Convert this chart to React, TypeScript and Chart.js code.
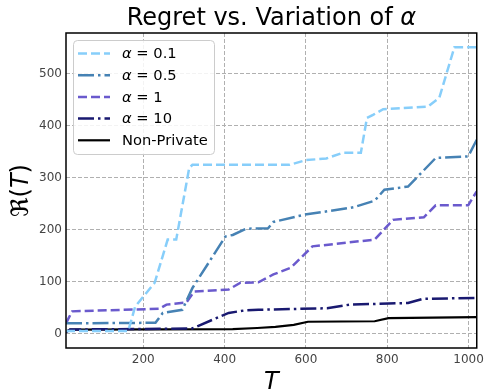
import React, { useEffect, useRef } from "react";
import { Chart, registerables } from "chart.js";

Chart.register(...registerables);

const xTicks = [200, 400, 600, 800, 1000];
const yTicks = [0, 100, 200, 300, 400, 500];

const tA01 = [10, 163, 180, 228, 260, 281, 313, 321, 560, 600, 650, 690, 735, 750, 765, 790, 900, 928, 965, 1020];
const rA01 = [5, 5, 52, 98, 181, 181, 319, 325, 325, 334, 337, 348, 348, 415, 421, 432, 437, 454, 551, 551];

const tA05 = [10, 230, 248, 296, 321, 402, 420, 453, 507, 520, 596, 708, 720, 769, 793, 851, 919, 999, 1020];
const rA05 = [20, 21, 40, 46, 88, 187, 190, 202, 203, 215, 229, 242, 244, 256, 277, 283, 338, 341, 373];

const tA1 = [10, 25, 240, 257, 306, 325, 410, 439, 483, 520, 563, 616, 769, 814, 890, 919, 999, 1020];
const rA1 = [20, 43, 48, 56, 60, 81, 85, 98, 99, 114, 127, 168, 181, 219, 224, 247, 247, 274];

const tA10 = [10, 20, 320, 410, 451, 483, 652, 708, 803, 851, 887, 1020];
const rA10 = [3, 8, 10, 40, 45, 46, 49, 56, 58, 59, 67, 69];

const tNP = [10, 20, 420, 480, 525, 570, 605, 769, 803, 1020];
const rNP = [4, 8, 9, 11, 13, 17, 23, 24, 30, 32];

const seriesLabels = ["0.1", "0.5", "1", "10", "Non-Private"];

const pts = (t: number[], r: number[]) => t.map((x, i) => ({ x, y: r[i] }));

const FONT = '"DejaVu Sans", sans-serif';

function drawRuns(ctx: CanvasRenderingContext2D, runs: [string, string][], x: number, y: number, align: "left" | "center") {
  let total = 0;
  const widths = runs.map(([t, f]) => {
    ctx.font = f;
    const w = ctx.measureText(t).width;
    total += w;
    return w;
  });
  let cx = align === "center" ? x - total / 2 : x;
  runs.forEach(([t, f], i) => {
    ctx.font = f;
    ctx.fillText(t, cx, y);
    cx += widths[i];
  });
}

const decor = {
  id: "decor",
  afterDraw(chart: any) {
    const ctx: CanvasRenderingContext2D = chart.ctx;
    const a = chart.chartArea;
    ctx.save();
    ctx.strokeStyle = "#000";
    ctx.lineWidth = 1.5;
    ctx.setLineDash([]);
    ctx.strokeRect(a.left, a.top, a.right - a.left, a.bottom - a.top);

    ctx.fillStyle = "#000";
    ctx.textBaseline = "alphabetic";
    drawRuns(
      ctx,
      [
        ["Regret vs. Variation of ", `24px ${FONT}`],
        ["α", `italic 24px ${FONT}`],
      ],
      (a.left + a.right) / 2,
      25,
      "center"
    );
    drawRuns(ctx, [["T", `italic 24px ${FONT}`]], (a.left + a.right) / 2, 389, "center");
    ctx.save();
    ctx.translate(28, (a.top + a.bottom) / 2);
    ctx.rotate(-Math.PI / 2);
    drawRuns(
      ctx,
      [
        ["ℜ", `24px ${FONT}`],
        ["(", `24px ${FONT}`],
        ["T", `italic 24px ${FONT}`],
        [")", `24px ${FONT}`],
      ],
      0,
      0,
      "center"
    );
    ctx.restore();

    const lx = 73.5, ly = 40.5, lw = 141, lh = 114;
    ctx.beginPath();
    ctx.roundRect(lx, ly, lw, lh, 4);
    ctx.fillStyle = "rgba(255,255,255,0.85)";
    ctx.fill();
    ctx.strokeStyle = "#cccccc";
    ctx.lineWidth = 1;
    ctx.stroke();
    const ds = chart.data.datasets;
    ds.forEach((d: any, i: number) => {
      const yy = 53.5 + i * 21.7;
      ctx.beginPath();
      ctx.setLineDash(d.borderDash || []);
      ctx.strokeStyle = d.borderColor;
      ctx.lineWidth = d.borderWidth;
      ctx.moveTo(78, yy);
      ctx.lineTo(110, yy);
      ctx.stroke();
      ctx.setLineDash([]);
      ctx.fillStyle = "#000";
      ctx.textBaseline = "middle";
      if (i < 4) {
        drawRuns(
          ctx,
          [
            ["α", `italic 14.7px ${FONT}`],
            [" = " + seriesLabels[i], `14.7px ${FONT}`],
          ],
          122,
          yy + 1,
          "left"
        );
      } else {
        drawRuns(ctx, [[seriesLabels[i], `14.7px ${FONT}`]], 122, yy + 1, "left");
      }
    });
    ctx.restore();
  },
};

export default function App() {
  const ref = useRef<HTMLCanvasElement>(null);
  useEffect(() => {
    if (!ref.current) return;
    const lw = 2.5;
    const chart = new Chart(ref.current, {
      type: "line",
      data: {
        datasets: [
          { label: "a0.1", data: pts(tA01, rA01), borderColor: "#87CEFA", borderWidth: lw, borderDash: [9, 4] },
          { label: "a0.5", data: pts(tA05, rA05), borderColor: "#4682B4", borderWidth: lw, borderDash: [16, 4, 2.5, 4] },
          { label: "a1", data: pts(tA1, rA1), borderColor: "#6A5ACD", borderWidth: lw, borderDash: [9, 4] },
          { label: "a10", data: pts(tA10, rA10), borderColor: "#191970", borderWidth: lw, borderDash: [16, 4, 2.5, 4] },
          { label: "Non-Private", data: pts(tNP, rNP), borderColor: "#000000", borderWidth: 2.2, borderDash: [] },
        ].map((d) => ({ ...d, pointRadius: 0, tension: 0, fill: false })),
      },
      options: {
        responsive: false,
        animation: false,
        layout: { padding: { left: 0, top: 33, right: 6, bottom: 0 } },
        plugins: { legend: { display: false }, title: { display: false }, tooltip: { enabled: false } },
        scales: {
          x: {
            type: "linear",
            min: 10,
            max: 1020,
            afterBuildTicks: (s: any) => {
              s.ticks = xTicks.map((v) => ({ value: v }));
            },
            afterFit: (s: any) => {
              s.height = 41;
            },
            ticks: {
              font: { family: "DejaVu Sans", size: 12 },
              color: "#444",
              padding: 5,
              maxRotation: 0,
              callback: (v: any) => String(v),
            },
            grid: { color: "#b0b0b0", lineWidth: 1, drawTicks: false },
            border: { display: false, dash: [4, 2] },
          },
          y: {
            type: "linear",
            min: -27.5,
            max: 578.5,
            afterBuildTicks: (s: any) => {
              s.ticks = yTicks.map((v) => ({ value: v }));
            },
            afterFit: (s: any) => {
              s.width = 66;
            },
            ticks: {
              font: { family: "DejaVu Sans", size: 12 },
              color: "#444",
              padding: 4,
              callback: (v: any) => String(v),
            },
            grid: { color: "#b0b0b0", lineWidth: 1, drawTicks: false },
            border: { display: false, dash: [4, 2] },
          },
        },
      },
      plugins: [decor],
    });
    return () => chart.destroy();
  }, []);
  return (
    <div style={{ position: "absolute", left: 0, top: 0, width: 489, height: 389, background: "#fff" }}>
      <canvas ref={ref} width={489} height={389} />
    </div>
  );
}
